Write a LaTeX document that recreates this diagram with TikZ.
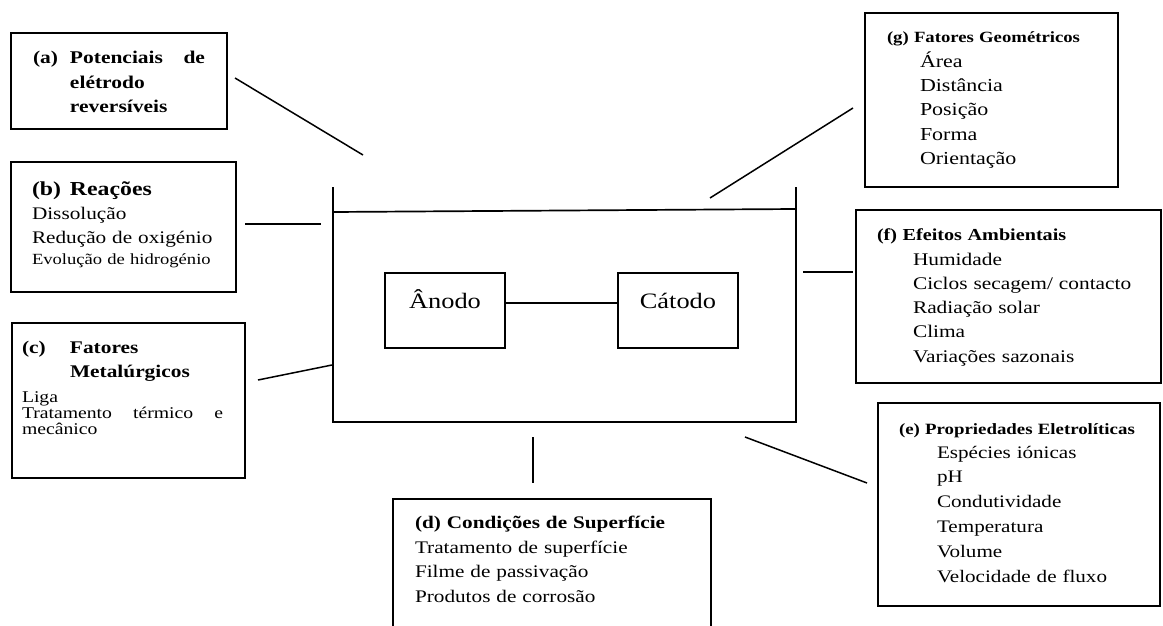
\documentclass[tikz,border=0pt]{standalone}
\usepackage{fontspec}
\setmainfont{Liberation Serif}[FakeStretch=1.2]
\begin{document}
\begin{tikzpicture}[x=1pt,y=-1pt,line width=1.5pt,
  box/.style={draw, line width=1.8pt, inner sep=0pt, outer sep=0pt, anchor=north west},
  txt/.style={anchor=base west, inner sep=0pt, outer sep=0pt, text width=#1, align=left},
  txt/.default=300pt,
  conn/.style={line width=1.5pt},
  vessel/.style={line width=1.7pt}]
\clip (0,0) rectangle (1163,626);

% (a)
\node[box, minimum width=216pt, minimum height=96pt] (boxa) at (11,33) {};
\node[txt=200pt, font=\fontsize{17.9}{24.5}\selectfont\bfseries] (ta) at (33,64)
  {\makebox[37pt][l]{(a)}\makebox[135pt][l]{Potenciais\hfill de}\\\hspace*{37pt}elétrodo\\\hspace*{37pt}reversíveis};

% (b)
\node[box, minimum width=225pt, minimum height=130pt] (boxb) at (11,162) {};
\node[txt, font=\fontsize{19.8}{24}\selectfont\bfseries] (tbt) at (32,195) {\makebox[38pt][l]{(b)}Reações};
\node[txt, font=\fontsize{17.7}{24}\selectfont] (tbb) at (32,219) {Dissolução\\Redução de oxigénio};
\node[txt, font=\fontsize{15.5}{21}\selectfont] (tbc) at (32,264) {Evolução de hidrogénio};

% (c)
\node[box, minimum width=233pt, minimum height=155pt] (boxc) at (12,323) {};
\node[txt, font=\fontsize{17.8}{24}\selectfont\bfseries] (tct) at (22,353)
  {\makebox[48pt][l]{(c)}Fatores\\\hspace*{48pt}Metalúrgicos};
\node[txt, font=\fontsize{16.4}{16}\selectfont] (tcb) at (22,402)
  {Liga\\\makebox[201pt][l]{Tratamento\hfill térmico\hfill e}\\mecânico};

% vessel
\coordinate (vTL) at (333,187);
\coordinate (vBL) at (333,422);
\coordinate (vBR) at (796,422);
\coordinate (vTR) at (796,187);
\coordinate (lvL) at (333,212);
\coordinate (lvR) at (796,209);
\draw[vessel] (vTL) -- (vBL) -- (vBR) -- (vTR);
\draw[vessel] (lvL) -- (lvR);

\node[box, line width=1.5pt, minimum width=120pt, minimum height=75pt] (anodo) at (385,273) {};
\node[box, line width=1.5pt, minimum width=120pt, minimum height=75pt] (catodo) at (618,273) {};
\node[anchor=base, inner sep=0pt, font=\fontsize{22}{26}\selectfont] (tan) at (445,308) {Ânodo};
\node[anchor=base, inner sep=0pt, font=\fontsize{22}{26}\selectfont] (tca) at (678,308) {Cátodo};
\draw[conn] ([yshift=7.5pt]anodo.east) -- ([yshift=7.5pt]catodo.west);

% connectors
\coordinate (a1) at (235,78);  \coordinate (a2) at (363,155);
\coordinate (b1) at (245,224); \coordinate (b2) at (321,224);
\coordinate (c1) at (258,380); \coordinate (c2) at (332,365);
\coordinate (d1) at (533,437); \coordinate (d2) at (533,483);
\coordinate (e1) at (745,437); \coordinate (e2) at (867,483);
\coordinate (f1) at (803,272); \coordinate (f2) at (853,272);
\coordinate (g1) at (710,198); \coordinate (g2) at (853,108);
\draw[conn] (a1) -- (a2);
\draw[conn] (b1) -- (b2);
\draw[conn] (c1) -- (c2);
\draw[conn] (d1) -- (d2);
\draw[conn] (e1) -- (e2);
\draw[conn] (f1) -- (f2);
\draw[conn] (g1) -- (g2);

% (g)
\node[box, minimum width=253pt, minimum height=174pt] (boxg) at (865,13) {};
\node[txt, font=\fontsize{15.6}{20}\selectfont\bfseries] (tgt) at (887,43) {(g) Fatores Geométricos};
\node[txt, font=\fontsize{18.3}{24.5}\selectfont] (tgb) at (920,67) {Área\\Distância\\Posição\\Forma\\Orientação};

% (f)
\node[box, minimum width=305pt, minimum height=173pt] (boxf) at (856,210) {};
\node[txt, font=\fontsize{16.8}{20}\selectfont\bfseries] (tft) at (877,240) {(f) Efeitos Ambientais};
\node[txt, font=\fontsize{17.8}{24.3}\selectfont] (tfb) at (913,265) {Humidade\\Ciclos secagem/ contacto\\Radiação solar\\Clima\\Variações sazonais};

% (e)
\node[box, minimum width=282pt, minimum height=203pt] (boxe) at (878,403) {};
\node[txt, font=\fontsize{15.7}{20}\selectfont\bfseries] (tet) at (899,434) {(e) Propriedades Eletrolíticas};
\node[txt, font=\fontsize{17.6}{24.8}\selectfont] (teb) at (937,458) {Espécies iónicas\\pH\\Condutividade\\Temperatura\\Volume\\Velocidade de fluxo};

% (d)
\node[box, minimum width=318pt, minimum height=160pt] (boxd) at (393,499) {};
\node[txt, font=\fontsize{17.7}{24}\selectfont\bfseries] (tdt) at (415,528) {(d) Condições de Superfície};
\node[txt, font=\fontsize{17.7}{24.5}\selectfont] (tdb) at (415,553) {Tratamento de superfície\\Filme de passivação\\Produtos de corrosão};
\end{tikzpicture}
\end{document}
